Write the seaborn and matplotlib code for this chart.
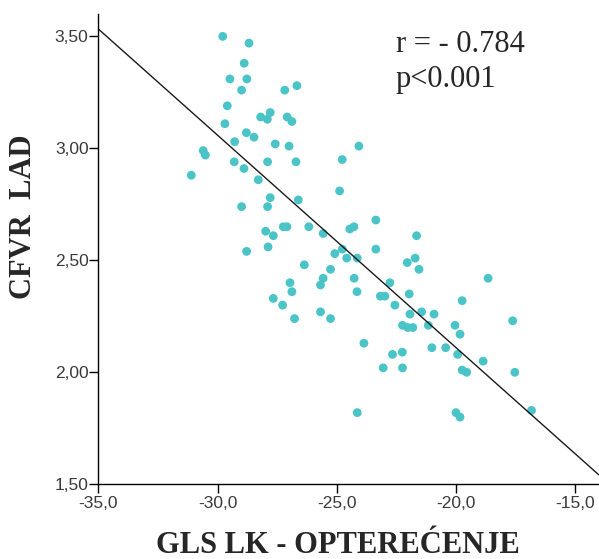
import matplotlib
matplotlib.use("Agg")
import matplotlib.pyplot as plt
import seaborn as sns
import numpy as np
import pandas as pd

# GLS LK under load (x) vs. CFVR LAD (y)
gls = [
    -29.78, -28.68, -28.88, -29.48, -28.77, -28.99, -27.18, -26.67, -29.59, -28.19,
    -27.79, -27.91, -27.08, -26.88, -29.69, -28.79, -28.47, -29.28, -27.58, -27.00,
    -30.60, -30.51, -29.30, -27.90, -26.71, -28.89, -31.10, -28.29, -27.79, -26.61,
    -28.99, -27.90, -24.07, -24.77, -24.88, -23.36, -27.24, -27.09, -27.98, -27.66,
    -28.78, -27.88, -26.96, -26.88, -27.66, -27.27, -26.77, -26.17, -25.57, -24.45,
    -24.28, -21.65, -23.36, -25.08, -24.77, -24.58, -24.14, -26.36, -25.26, -21.71,
    -22.04, -21.55, -25.57, -25.68, -24.27, -24.15, -22.77, -23.17, -22.98, -21.96,
    -22.56, -25.68, -25.26, -21.93, -21.44, -22.24, -22.02, -21.81, -21.16, -23.86,
    -22.66, -22.25, -23.05, -22.24, -24.14, -18.65, -19.74, -20.92, -17.62, -20.04,
    -19.83, -21.01, -20.43, -19.93, -18.86, -19.74, -19.55, -17.53, -20.00, -19.83,
    -16.83,
]
cfvr = [
    3.50, 3.47, 3.38, 3.31, 3.31, 3.26, 3.26, 3.28, 3.19, 3.14,
    3.16, 3.13, 3.14, 3.12, 3.11, 3.07, 3.05, 3.03, 3.02, 3.01,
    2.99, 2.97, 2.94, 2.94, 2.94, 2.91, 2.88, 2.86, 2.78, 2.77,
    2.74, 2.74, 3.01, 2.95, 2.81, 2.68, 2.65, 2.65, 2.63, 2.61,
    2.54, 2.56, 2.40, 2.36, 2.33, 2.30, 2.24, 2.65, 2.62, 2.64,
    2.65, 2.61, 2.55, 2.53, 2.55, 2.51, 2.51, 2.48, 2.46, 2.51,
    2.49, 2.46, 2.42, 2.39, 2.42, 2.36, 2.40, 2.34, 2.34, 2.35,
    2.30, 2.27, 2.24, 2.26, 2.27, 2.21, 2.20, 2.20, 2.21, 2.13,
    2.08, 2.09, 2.02, 2.02, 1.82, 2.42, 2.32, 2.26, 2.23, 2.21,
    2.17, 2.11, 2.11, 2.08, 2.05, 2.01, 2.00, 2.00, 1.82, 1.80,
    1.83,
]
x_ticks = [-35.0, -30.0, -25.0, -20.0, -15.0]
y_ticks = [1.50, 2.00, 2.50, 3.00, 3.50]
stats_lines = ["r = - 0.784", "p<0.001"]

df = pd.DataFrame({"GLS": gls, "CFVR": cfvr})

sns.set_style("ticks")
plt.rcParams["font.family"] = ["Liberation Sans", "DejaVu Sans"]

W, H = 599, 559
fig = plt.figure(figsize=(W / 100, H / 100), dpi=100)
left, right, top, bottom = 98.3, 599.0, 14.0, 484.3
ax = fig.add_axes([left / W, 1 - bottom / H, (right - left) / W, (bottom - top) / H])

ax.set_xlim(-35.0, -14.0)
ax.set_ylim(1.50, 3.60)

sns.regplot(
    data=df, x="GLS", y="CFVR", ax=ax, ci=None, truncate=False,
    scatter_kws=dict(s=40, color="#4BC4C7", edgecolor="none", alpha=1),
    line_kws=dict(color="#1a1a1a", linewidth=1.0),
)

ax.set_xticks(x_ticks)
ax.set_xticklabels([f"{v:.1f}".replace(".", ",") for v in x_ticks])
ax.set_yticks(y_ticks)
ax.set_yticklabels([f"{v:.2f}".replace(".", ",") for v in y_ticks])

for side in ("top", "right"):
    ax.spines[side].set_visible(False)
for side in ("left", "bottom"):
    ax.spines[side].set_linewidth(1.0)
    ax.spines[side].set_color("black")

ax.tick_params(axis="both", direction="out", length=6.5, width=1.0, color="black",
               labelsize=12.5, labelcolor="#3a3a3a")
ax.tick_params(axis="x", pad=2)
ax.tick_params(axis="y", pad=0.5)

serif = ["Liberation Serif", "DejaVu Serif"]
ax.set_xlabel("GLS LK - OPTEREĆENJE", family=serif, fontweight="bold", fontsize=22,
              va="baseline", ha="center")
ax.xaxis.set_label_coords((338 - left) / (right - left), (bottom - 553) / (bottom - top))
ax.set_ylabel("CFVR  LAD", family=serif, fontweight="bold", fontsize=22,
              va="center", ha="center")
ax.yaxis.set_label_coords((24 - left) / (right - left), (bottom - 217) / (bottom - top))

fig.text(396 / W, 1 - 52.3 / H, stats_lines[0], family=serif, fontsize=22,
         ha="left", va="baseline")
fig.text(396 / W, 1 - 86.7 / H, stats_lines[1], family=serif, fontsize=22,
         ha="left", va="baseline")

fig.savefig("out.png", dpi=100)
